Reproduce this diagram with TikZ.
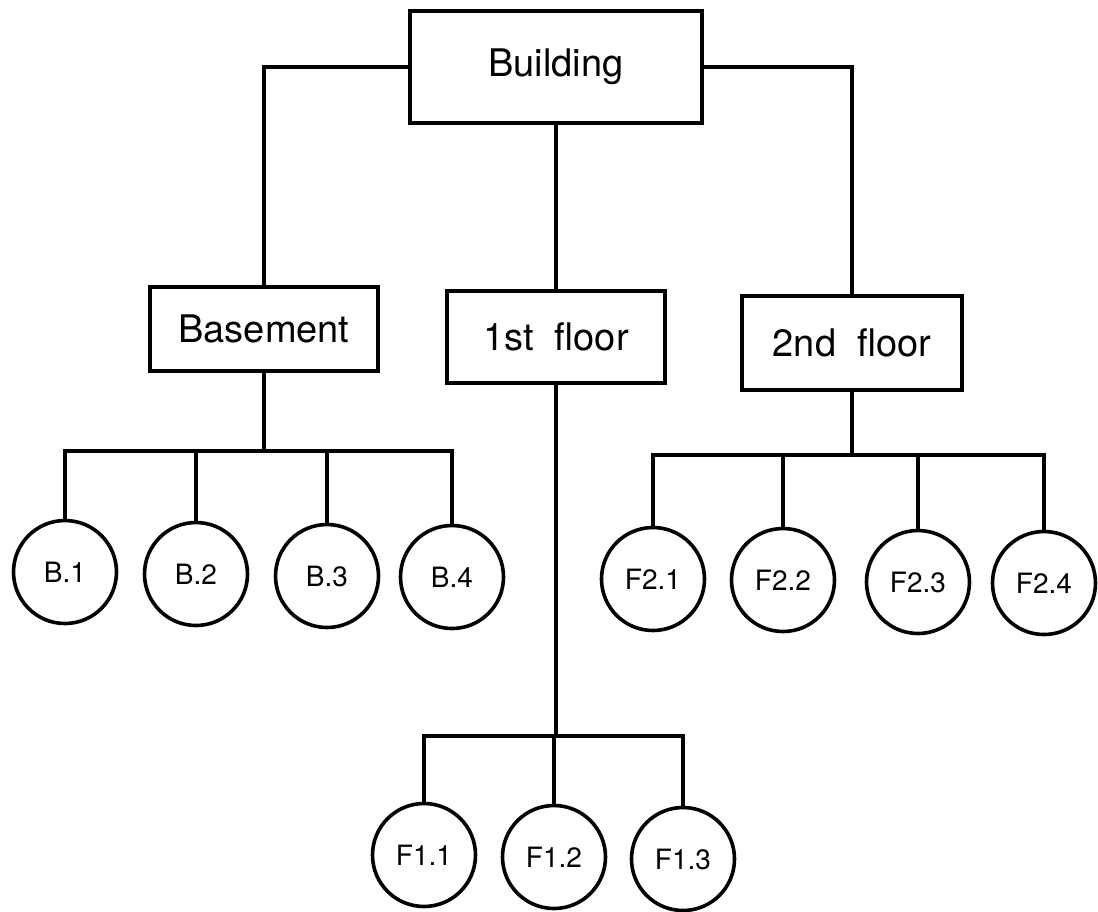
\documentclass[tikz,border=0pt]{standalone}
\usepackage{fontspec}
\setmainfont{TeX Gyre Heros}
\tikzset{
  floorbox/.style={draw, rectangle, line width=1.8pt, inner sep=0pt, font=\fontsize{19}{22}\selectfont},
  roomcirc/.style={draw, circle, line width=1.8pt, inner sep=0pt, minimum size=51.5pt, font=\fontsize{14}{17}\selectfont},
  link/.style={line width=1.7pt}
}
\begin{document}
\begin{tikzpicture}[x=0.5pt, y=-0.5pt]
  \useasboundingbox (0,0) rectangle (1098,911);
  \node[floorbox, minimum width=146pt, minimum height=56pt] (bldg) at (556,67) {Building};
  \node[floorbox, minimum width=114pt, minimum height=42pt] (base) at (264,329) {Basement};
  \node[floorbox, minimum width=109pt, minimum height=46pt] (fl-1) at (556,337) {1st\ \ floor};
  \node[floorbox, minimum width=110pt, minimum height=47pt] (fl-2) at (852,343) {2nd\ \ floor};

  \foreach \i/\x/\y in {1/65/572, 2/196/574, 3/327/576, 4/452/577}
    \node[roomcirc] (b-\i) at (\x,\y) {B.\i};
  \foreach \i/\x/\y in {1/424/855, 2/554/857, 3/683/859}
    \node[roomcirc] (f1-\i) at (\x,\y) {F1.\i};
  \foreach \i/\x/\y in {1/653/579, 2/783/580, 3/918/582, 4/1044/583}
    \node[roomcirc] (f2-\i) at (\x,\y) {F2.\i};

  \coordinate (base-bar) at (264,451);
  \coordinate (fl-1-bar) at (556,736);
  \coordinate (fl-2-bar) at (852,455);

  \draw[link] (bldg.west) -| (base.north);
  \draw[link] (bldg) -- (fl-1);
  \draw[link] (bldg.east) -| (fl-2.north);

  \draw[link] (base) -- (base-bar);
  \draw[link] (fl-1) -- (fl-1-bar);
  \draw[link] (fl-2) -- (fl-2-bar);

  \foreach \i in {1,...,4} {
    \draw[link] (base-bar) -| (b-\i);
    \draw[link] (fl-2-bar) -| (f2-\i);
  }
  \foreach \i in {1,...,3}
    \draw[link] (fl-1-bar) -| (f1-\i);
\end{tikzpicture}
\end{document}
